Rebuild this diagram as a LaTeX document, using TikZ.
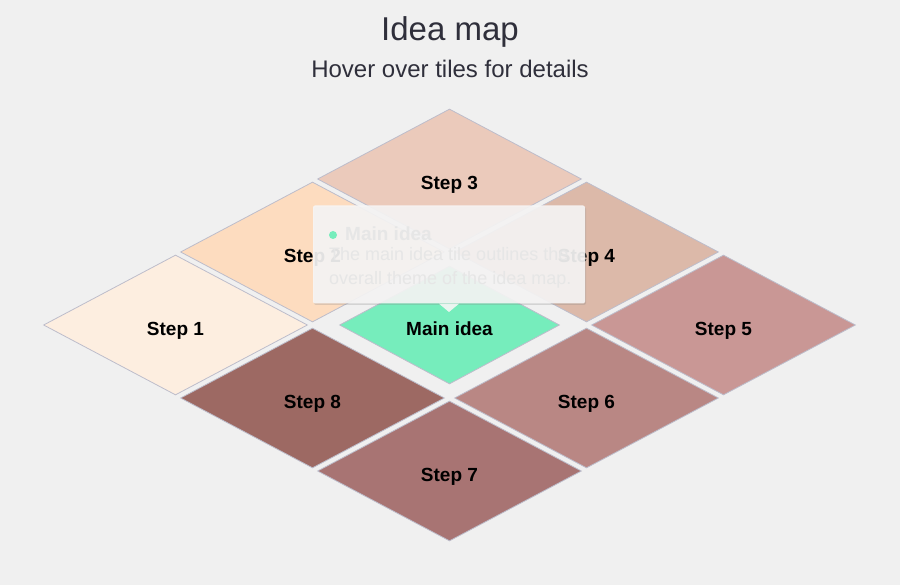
\documentclass[tikz,border=0pt]{standalone}
\usepackage{fontspec}
\setmainfont{Liberation Sans}
\usetikzlibrary{shapes.geometric,shadows}

\definecolor{bgGray}{HTML}{F0F0F0}
\definecolor{tileLine}{HTML}{BDBDCB}
\definecolor{titleInk}{HTML}{2F2F3B}
\definecolor{stepOne}{HTML}{FDEEE0}
\definecolor{stepTwo}{HTML}{FDDCBF}
\definecolor{stepThree}{HTML}{EBCABB}
\definecolor{stepFour}{HTML}{DCB9A9}
\definecolor{stepFive}{HTML}{C99795}
\definecolor{stepSix}{HTML}{B98784}
\definecolor{stepSeven}{HTML}{A87473}
\definecolor{stepEight}{HTML}{9D6963}
\definecolor{mainGreen}{HTML}{76EDBC}
\definecolor{tipFill}{HTML}{F7F6F6}
\definecolor{tipInk}{HTML}{E6E6E6}

\begin{document}
\begin{tikzpicture}[
					x = 1pt,
					y = -1pt,
					tile/.style = {
						shape = diamond,
						draw = tileLine,
						line width = 0.8pt,
						minimum width = 264pt,
						minimum height = 140pt,
						inner sep = 0pt,
						text height = 21pt,
						text depth = 0pt,
						font = \fontsize{19}{22}\selectfont\bfseries,
					},
					tipbox/.style = {
						shape = rectangle,
						rounded corners = 2pt,
						fill = tipFill,
						fill opacity = 0.9,
						minimum width = 272pt,
						minimum height = 98pt,
						drop shadow = {shadow xshift = 1pt, shadow yshift = -1.5pt, opacity = 0.25},
					},
					tiptext/.style = {
						anchor = base west,
						inner sep = 0pt,
						text = tipInk,
						align = left,
					},
			]
				\fill[bgGray] (0, 0) rectangle (900, 585);
				\useasboundingbox (0, 0) rectangle (900, 585);

				\draw (450, 41) node (title) [anchor = base, text = titleInk, font = \fontsize{33}{38}\selectfont] {Idea map};
				\draw (450, 77.7) node (subtitle) [anchor = base, text = titleInk, font = \fontsize{24}{28}\selectfont] {Hover over tiles for details};

				\draw (175.5, 325) node (step1) [tile, fill = stepOne] {Step 1};
				\draw (312.5, 252) node (step2) [tile, fill = stepTwo] {Step 2};
				\draw (449.5, 179) node (step3) [tile, fill = stepThree] {Step 3};
				\draw (586.5, 252) node (step4) [tile, fill = stepFour] {Step 4};
				\draw (723.5, 325) node (step5) [tile, fill = stepFive] {Step 5};
				\draw (586.5, 398) node (step6) [tile, fill = stepSix] {Step 6};
				\draw (449.5, 471) node (step7) [tile, fill = stepSeven] {Step 7};
				\draw (312.5, 398) node (step8) [tile, fill = stepEight] {Step 8};
				\draw (449.5, 325) node (main) [tile, fill = mainGreen, minimum width = 220pt, minimum height = 118pt] {Main idea};

				\draw (449, 254.5) node (tip) [tipbox] {};
				\fill[tipFill, fill opacity = 0.9] ([xshift = -10pt]tip.south) -- (449, 312) -- ([xshift = 10pt]tip.south) -- cycle;
				\draw (333, 235) node (dot) [circle, fill = mainGreen, minimum size = 8pt, inner sep = 0pt] {};
				\draw (345, 240.5) node (tiptitle) [tiptext, font = \fontsize{19}{22}\selectfont\bfseries] {Main idea};
				\draw (329, 284.3) node (tipbody) [tiptext, font = \fontsize{18}{23.3}\selectfont] {The main idea tile outlines the\\overall theme of the idea map.};
			\end{tikzpicture}
\end{document}
